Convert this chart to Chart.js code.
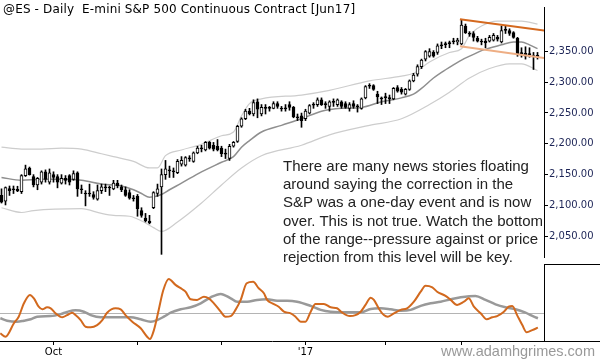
<!DOCTYPE html>
<html lang="en">
<head>
<meta charset="utf-8"/>
<title>@ES Daily</title>
<script src="https://cdn.jsdelivr.net/npm/chart.js"></script>
<style>
    body { margin: 0; background: #fff; }
    #wrap { position: relative; width: 600px; height: 360px; overflow: hidden; background: #fff; }
    #main { position: absolute; left: 0; top: 0; }
    #lower { position: absolute; left: 0; top: 264px; }
    .title {
        position: absolute; left: 3px; top: 2px;
        font-family: 'DejaVu Sans', sans-serif; font-size: 12px; letter-spacing: 0.15px; color: #000;
        white-space: pre;
    }
    .note {
        position: absolute; left: 283px; top: 157px;
        font-family: 'Liberation Sans', Arial, sans-serif; font-size: 15px; line-height: 18.2px;
        color: #222; white-space: pre;
    }
    .site {
        position: absolute; right: 5px; top: 343px;
        font-family: 'Liberation Sans', Arial, sans-serif; font-size: 14.5px; line-height: 16px;
        color: #999;
    }
</style>
</head>
<body>
<div id="wrap">
    <canvas id="main" width="600" height="264"></canvas>
    <canvas id="lower" width="600" height="96"></canvas>
    <div class="title">@ES - Daily  E-mini S&amp;P 500 Continuous Contract [Jun17]</div>
    <div class="note">There are many news stories floating
around saying the correction in the
S&amp;P was a one-day event and is now
over. This is not true. Watch the bottom
of the range--pressure against or price
rejection from this level will be key.</div>
    <div class="site">www.adamhgrimes.com</div>
</div>

<script>
// daily bars, mid Sep 2016 -> late Mar 2017 (index = trading day)
const opens = [2116.4,2107.2,2127.6,2126.4,2126.1,2122.5,2148.6,2160.9,2147.1,2133.3,
    2137.9,2154.7,2137.9,2150.1,2147.1,2136.3,2144.0,2148.6,2142.5,2153.2,
    2127.1,2120.2,2120.2,2117.9,2110.3,2124.1,2129.9,2129.4,2127.1,2136.3,
    2130.2,2125.6,2121.0,2112.6,2114.9,2091.9,2079.6,2075.0,2096.5,2119.5,
    2130.2,2150.1,2157.3,2156.3,2153.2,2167.0,2165.5,2176.7,2171.6,2185.4,
    2193.1,2190.0,2202.3,2197.7,2196.1,2193.1,2184.3,2176.2,2196.1,2203.8,
    2228.4,2240.6,2252.9,2248.3,2268.2,2248.3,2258.6,2259.0,2257.5,2265.2,
    2257.5,2257.5,2263.6,2259.0,2243.2,2245.2,2240.6,2249.8,2263.6,2263.6,
    2271.3,2264.7,2260.6,2268.2,2263.6,2268.2,2265.2,2257.5,2265.2,2261.0,
    2257.5,2274.4,2294.3,2294.3,2280.5,2273.9,2275.9,2274.4,2272.8,2291.2,
    2288.2,2280.5,2288.2,2302.0,2312.7,2325.0,2337.2,2341.8,2348.0,2348.0,
    2359.8,2361.8,2363.3,2366.4,2364.9,2361.8,2390.9,2378.7,2378.7,2371.0,
    2365.9,2366.4,2366.4,2367.9,2372.5,2364.9,2384.8,2383.3,2380.2,2371.0,
    2346.9,2346.5,2345.4,2342.3,2343.4];
const highs = [2127.1,2130.2,2131.7,2131.7,2131.3,2150.1,2165.5,2162.4,2150.1,2145.5,
    2156.3,2157.8,2159.3,2154.7,2150.1,2150.1,2148.6,2150.1,2156.3,2154.7,
    2133.3,2124.1,2134.8,2122.5,2133.3,2134.8,2134.8,2131.7,2140.9,2140.9,
    2133.3,2130.2,2125.6,2116.4,2118.0,2096.5,2087.3,2084.2,2122.5,2134.8,
    2159.3,2173.1,2163.9,2160.9,2174.7,2179.3,2179.3,2180.8,2186.9,2196.1,
    2197.7,2203.8,2203.8,2202.3,2206.9,2196.1,2191.5,2199.2,2203.8,2229.9,
    2242.2,2256.0,2257.5,2271.3,2272.8,2263.6,2263.6,2260.6,2268.2,2268.2,
    2260.6,2263.6,2268.2,2260.6,2248.3,2249.8,2256.0,2263.6,2266.7,2274.4,
    2274.4,2268.2,2269.8,2272.8,2272.8,2269.8,2268.2,2266.7,2269.8,2263.6,
    2274.4,2294.3,2297.4,2295.8,2285.1,2275.9,2282.0,2279.0,2291.2,2294.3,
    2291.2,2289.7,2303.5,2314.2,2328.0,2337.2,2351.0,2354.1,2351.0,2361.8,
    2364.9,2364.9,2366.4,2371.0,2371.0,2401.7,2394.0,2381.7,2381.7,2374.1,
    2369.5,2371.0,2375.6,2378.7,2375.6,2390.9,2390.9,2386.3,2381.7,2372.5,
    2355.6,2357.2,2355.6,2348.0,2348.0];
const lows = [2104.1,2101.0,2116.4,2119.5,2122.5,2119.5,2147.1,2149.4,2130.2,2125.6,
    2134.8,2137.9,2134.8,2137.9,2128.7,2134.8,2134.8,2133.3,2140.9,2114.9,
    2119.5,2099.5,2114.9,2110.3,2108.7,2119.5,2122.5,2116.4,2125.6,2128.7,
    2122.5,2114.9,2110.3,2107.2,2082.7,2081.1,2073.4,2070.4,2095.0,2114.9,
    2021.0,2142.5,2145.5,2145.5,2151.7,2163.9,2163.9,2171.6,2170.1,2183.9,
    2186.9,2188.5,2191.5,2188.5,2188.5,2179.3,2176.2,2173.1,2194.6,2202.3,
    2226.8,2239.1,2246.8,2245.2,2242.2,2245.2,2248.3,2252.9,2256.7,2257.5,
    2252.9,2252.9,2254.4,2242.2,2237.6,2226.8,2237.6,2248.3,2257.5,2260.6,
    2262.1,2257.5,2252.9,2260.6,2260.6,2257.5,2257.5,2252.9,2257.5,2251.4,
    2256.0,2272.8,2289.7,2286.6,2265.2,2263.6,2265.2,2265.2,2271.3,2283.6,
    2280.5,2279.0,2286.6,2300.4,2309.6,2321.9,2334.2,2340.3,2340.3,2344.9,
    2354.1,2355.6,2355.6,2361.8,2360.3,2360.3,2378.7,2374.1,2366.4,2364.9,
    2360.3,2355.6,2364.9,2366.4,2366.4,2363.3,2378.7,2375.6,2371.0,2341.8,
    2340.3,2337.2,2340.3,2320.4,2337.2];
const closes = [2105.7,2129.1,2124.1,2125.6,2123.6,2148.6,2159.3,2150.1,2133.3,2144.0,
    2154.7,2142.5,2153.2,2145.5,2137.9,2144.0,2140.9,2137.9,2151.7,2127.1,
    2125.6,2118.7,2118.7,2113.3,2124.1,2130.2,2128.7,2128.4,2136.3,2131.7,
    2125.6,2116.4,2111.8,2111.0,2095.0,2084.2,2075.0,2071.9,2121.0,2127.1,
    2150.1,2159.3,2156.3,2154.7,2171.6,2173.1,2177.7,2175.7,2185.4,2193.1,
    2192.0,2202.3,2193.1,2191.5,2190.0,2183.9,2183.4,2196.1,2202.3,2228.4,
    2240.6,2252.9,2248.3,2266.7,2256.0,2259.0,2257.5,2257.5,2265.2,2260.6,
    2256.4,2256.7,2259.0,2243.7,2242.2,2237.6,2252.9,2262.1,2262.6,2271.3,
    2263.6,2263.6,2268.2,2267.2,2271.3,2260.6,2259.0,2263.6,2260.6,2260.1,
    2272.8,2292.8,2293.2,2288.2,2275.9,2272.8,2274.8,2273.3,2289.7,2285.1,
    2283.6,2288.2,2302.0,2311.2,2325.0,2335.7,2349.5,2349.5,2341.8,2358.7,
    2358.7,2360.7,2362.2,2365.3,2367.9,2392.5,2380.2,2377.6,2372.5,2366.4,
    2364.9,2363.3,2372.5,2375.6,2369.5,2383.3,2383.7,2378.7,2372.5,2344.9,
    2346.0,2341.8,2344.5,2341.4,2340.3];

// channel (bar index -> price)
const midIdx = [0,5,10,15,20,25,30,33,35,37,40,42,45,50,55,58,60,62,65,70,75,80,85,90,95,100,103,105,108,110,113,115,118,120,125,128,130,132,134];
const midVals = [2145.5,2140.9,2142.5,2142.5,2140.9,2134.8,2131.7,2125.6,2119.5,2113.3,2117.9,2125.6,2136.3,2154.7,2170.1,2179.3,2194.6,2205.3,2219.1,2229.9,2240.6,2252.9,2257.5,2259.0,2268.2,2274.4,2280.5,2289.7,2306.6,2315.8,2328.0,2335.7,2344.9,2351.0,2360.3,2364.9,2364.9,2360.3,2354.1];
const upIdx = [0,5,10,15,20,25,28,33,37,39,41,45,50,55,58,60,62,65,75,82,92,100,103,107,112,115,117,120,124,130,134];
const upVals = [2194.6,2191.5,2191.5,2193.1,2191.5,2183.9,2179.3,2171.6,2160.9,2160.9,2180.8,2190.0,2199.2,2213.0,2219.1,2245.2,2265.2,2272.8,2279.0,2286.6,2302.0,2309.6,2314.2,2332.6,2348.0,2354.1,2375.6,2390.9,2398.6,2398.6,2394.0];
const lowIdx = [0,5,8,20,25,28,32,36,38,40,44,50,55,60,65,75,82,92,100,107,112,117,122,127,130,134];
const lowVals = [2096.5,2088.8,2091.9,2094.9,2087.3,2084.2,2082.7,2071.9,2064.3,2058.1,2073.4,2104.1,2133.3,2160.9,2180.8,2197.7,2214.6,2229.9,2240.6,2263.6,2283.6,2306.6,2321.9,2329.6,2329.6,2318.8];

// trend lines on the recent range
const topLine = [[114.6, 2401.7], [136, 2383.3]];
const bottomLine = [[114.6, 2358.0], [136, 2338.8]];

// oscillator panel
const fastIdx = [-0.3,1,3.1,4.3,5.6,7.1,8.1,9.3,10.2,11.4,12.3,13.5,15.2,16.4,17.7,18.5,19.8,21,22.3,23.9,25.2,26.4,28.5,29.8,31,32.7,34.8,36.4,37.1,38.1,39.3,40.4,41.8,43.5,45.2,46,47.3,48.9,50.6,51.8,53.1,54.8,56,57.3,58.5,59.8,61.3,62.9,64.3,65.6,66.4,67.7,69.3,70.6,72.3,73.5,74.8,76,77.3,78.5,80.6,82.3,83.9,85.2,87.1,88.5,89.8,91,92.3,93.1,94.3,95.6,96.6,98.1,99.8,101.4,103.1,104.8,106,107.7,108.9,111,112.3,113.9,115.6,116.8,118.1,119.8,121.3,122.7,123.9,125.6,126.8,127.7,128.9,130.2,131.3,132.7,134.1];
const fastVals = [-10.0,-11.7,-5.0,-1.7,5.0,9.2,7.5,3.3,2.0,3.0,2.5,0,-2.0,-0.9,0.3,-0.9,-3.4,-6.7,-7.0,-5.9,-3.4,0.3,2.5,2.0,-0.9,-4.2,-7.5,-11.7,-12.9,-8.4,1.7,11.3,17.2,14.2,12.0,10.8,7.0,6.7,8.3,7.5,5.0,0.8,-1.7,-1.4,1.7,6.7,15.0,15.8,12.5,10.0,6.7,5.0,3.3,0.8,0,-1.7,-4.2,-4.2,0.8,4.7,4.7,3.0,2.5,0.3,-1.4,-0.9,0.8,4.2,7.8,6.7,2.5,-0.9,-1.7,0,1.7,2.5,5.8,10.8,13.8,13.0,10.8,8.7,6.7,4.2,5.8,7.5,3.3,0,-3.0,-2.0,-1.4,0.8,3.3,3.7,-0.9,-5.9,-9.5,-8.4,-7.2];
const slowIdx = [-0.3,1.4,3.9,5.6,7.3,8.9,12.3,14.8,16.4,18.5,20.6,22.3,24.8,29.8,32.3,34.8,37.3,38.9,40.6,42.3,44.8,47.3,49.8,52.3,54.8,57.3,58.9,61.4,63.9,66.4,68.9,71.4,73.9,77.3,79.8,82.3,87.3,89.8,92.3,94.8,97.3,99.8,102.3,104.8,107.3,109.8,112.3,114.8,118.5,121,123.5,126,128.5,131,133.1,134.1];
const slowVals = [-2.5,-3.7,-4.2,-3.7,-3.0,-1.7,-1.4,-0.4,0.7,1.5,0.8,-0.9,-2.0,-2.0,-2.0,-3.0,-4.2,-3.4,-1.7,0.3,2.0,3.0,5.0,8.0,9.7,7.5,5.8,5.8,6.7,7.0,6.3,6.3,5.8,3.7,1.7,0.8,0.5,0.5,2.2,2.5,2.0,1.3,1.7,3.7,5.0,5.8,7.0,8.0,8.7,6.7,4.5,3.0,2.0,0.3,-1.7,-2.5];

// x axis: month starts
const monthIdx = [13, 34, 55, 76, 96, 115];
const monthLabels = ['Oct', '', '', "'17", '', ''];

const priceTicks = [2050, 2100, 2150, 2200, 2250, 2300, 2350];

const xMin = -0.375, xMax = 135.625;
const axisFont = { family: "'DejaVu Sans', sans-serif", size: 10 };
const pairs = (xs, ys) => xs.map((x, k) => ({ x: x, y: ys[k] }));
const fixWidth = scale => { scale.width = 56; };

const bars = opens.map((o, i) => i);

new Chart(document.getElementById('main'), {
    type: 'bar',
    data: {
        datasets: [
            {
                type: 'line', data: topLine.map(p => ({ x: p[0], y: p[1] })),
                borderColor: '#d4691f', borderWidth: 2, pointRadius: 0, order: 0
            },
            {
                type: 'line', data: bottomLine.map(p => ({ x: p[0], y: p[1] })),
                borderColor: '#eeae84', borderWidth: 2, pointRadius: 0, order: 0
            },
            {
                data: bars.map(i => ({ x: i, y: [opens[i], closes[i]] })),
                backgroundColor: bars.map(i => closes[i] >= opens[i] ? '#ffffff' : '#000000'),
                borderColor: '#000', borderWidth: 1, borderSkipped: false,
                barThickness: 3, grouped: false, minBarLength: 1, order: 1
            },
            {
                data: bars.map(i => ({ x: i, y: [lows[i], highs[i]] })),
                backgroundColor: '#000', borderWidth: 0,
                barThickness: 1, grouped: false, order: 2
            },
            {
                type: 'line', data: pairs(midIdx, midVals),
                borderColor: '#8f8f8f', borderWidth: 1.5, pointRadius: 0,
                cubicInterpolationMode: 'monotone', order: 3
            },
            {
                type: 'line', data: pairs(upIdx, upVals),
                borderColor: '#cdcdcd', borderWidth: 1.2, pointRadius: 0,
                cubicInterpolationMode: 'monotone', order: 3
            },
            {
                type: 'line', data: pairs(lowIdx, lowVals),
                borderColor: '#cdcdcd', borderWidth: 1.2, pointRadius: 0,
                cubicInterpolationMode: 'monotone', order: 3
            }
        ]
    },
    options: {
        responsive: false,
        animation: false,
        layout: { padding: 0 },
        plugins: { legend: { display: false }, tooltip: { enabled: false } },
        scales: {
            x: { type: 'linear', min: xMin, max: xMax, offset: false, display: false },
            y: {
                position: 'right', min: 2016.7, max: 2421.6,
                afterFit: fixWidth,
                afterBuildTicks: scale => { scale.ticks = priceTicks.map(v => ({ value: v })); },
                grid: { drawOnChartArea: false, tickLength: 4, color: '#000' },
                border: { color: '#000', width: 1 },
                ticks: {
                    padding: 1, color: '#1c2456', font: axisFont,
                    callback: v => v.toLocaleString('en-US', { minimumFractionDigits: 2, maximumFractionDigits: 2 })
                }
            }
        }
    }
});

// separator and axis extension lines in the right margin
const edgeLines = {
    id: 'edgeLines',
    afterDraw(chart) {
        const ctx = chart.ctx, area = chart.chartArea;
        ctx.save();
        ctx.strokeStyle = '#000';
        ctx.lineWidth = 1;
        ctx.beginPath();
        ctx.moveTo(area.right, 0.5);
        ctx.lineTo(chart.width, 0.5);
        ctx.moveTo(area.right, Math.round(area.bottom) + 0.5);
        ctx.lineTo(chart.width, Math.round(area.bottom) + 0.5);
        ctx.stroke();
        ctx.restore();
    }
};

new Chart(document.getElementById('lower'), {
    type: 'line',
    data: {
        datasets: [
            {
                data: pairs(fastIdx, fastVals),
                borderColor: '#d2691e', borderWidth: 2, pointRadius: 0,
                cubicInterpolationMode: 'monotone', order: 0
            },
            {
                data: pairs(slowIdx, slowVals),
                borderColor: '#999999', borderWidth: 2.5, pointRadius: 0,
                cubicInterpolationMode: 'monotone', order: 1
            }
        ]
    },
    options: {
        responsive: false,
        animation: false,
        layout: { padding: 0 },
        plugins: { legend: { display: false }, tooltip: { enabled: false } },
        scales: {
            x: {
                type: 'linear', min: xMin, max: xMax, offset: false,
                afterFit: scale => { scale.height = 19; },
                afterBuildTicks: scale => { scale.ticks = monthIdx.map(v => ({ value: v })); },
                grid: { drawOnChartArea: false, tickLength: 4, color: '#000' },
                border: { color: '#000', width: 1 },
                ticks: {
                    autoSkip: false, maxRotation: 0, padding: 1, color: '#000', font: axisFont,
                    callback: v => monthLabels[monthIdx.indexOf(v)] || ''
                }
            },
            y: {
                position: 'right', min: -13.85, max: 24.65,
                afterFit: fixWidth,
                afterBuildTicks: scale => { scale.ticks = [{ value: 0 }]; },
                grid: { drawTicks: false, color: '#b4b4b4', lineWidth: 1 },
                border: { color: '#000', width: 1 },
                ticks: { display: false }
            }
        }
    },
    plugins: [edgeLines]
});
</script>
</body>
</html>
